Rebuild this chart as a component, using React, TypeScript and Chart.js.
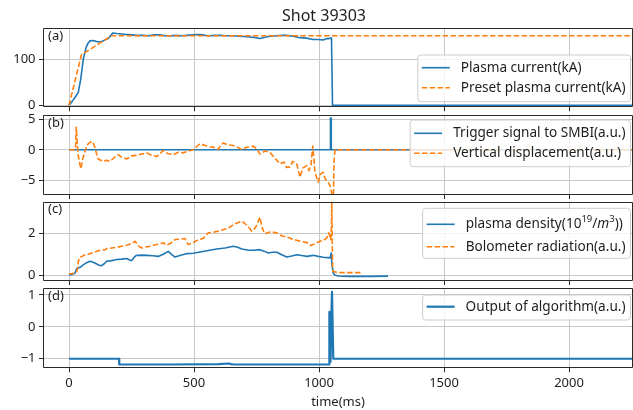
import React, { useEffect, useRef } from "react";
import { Chart, registerables } from "chart.js";

Chart.register(...registerables);

const W = 633;
const H = 410;
const FONT = "'Noto Sans', 'DejaVu Sans', sans-serif";
const TEXT = "#1e1e1e";
const BLUE = "#1f77b4";
const ORANGE = "#ff7f0e";
const GRID = "#c8c8c8";
const FRAME = "#2a2a2a";

const TITLE = "Shot 39303";
const X_LABEL = "time(ms)";
const X_MIN = -104;
const X_MAX = 2256;
const X_TICKS = [0, 500, 1000, 1500, 2000];

// ---- (a) plasma current ----
const A_TICKS = [0, 100];
const plasmaCurrent: [number, number][] = [
  [0, 0], [12, 8], [24, 17], [37, 28], [47, 57], [57, 100], [68, 125], [76, 135], [84, 140],
  [97, 141], [107, 139], [117, 138], [127, 138], [137, 140], [147, 143], [157, 145], [166, 151],
  [175, 157], [191, 156], [211, 155], [231, 154], [251, 153], [271, 152], [297, 152], [320, 151],
  [340, 153], [364, 153], [384, 151], [404, 151], [430, 152], [450, 151], [471, 152], [497, 153],
  [524, 154], [544, 152], [564, 151], [584, 152], [604, 152], [630, 151], [657, 151], [684, 150],
  [711, 149], [737, 148], [764, 145], [784, 148], [804, 150], [830, 151], [850, 152], [871, 152],
  [897, 150], [924, 147], [950, 146], [977, 143], [997, 143], [1017, 142], [1031, 145], [1040, 145],
  [1047, 146], [1050, 146], [1054, 0], [1070, 0], [2260, 0],
];
const presetCurrent: [number, number][] = [
  [0, 0], [50, 110], [170, 151], [2260, 151],
];

// ---- (b) trigger / vertical displacement ----
const B_TICKS = [-5, 0, 5];
const triggerSignal: [number, number][] = [
  [0, 0], [1045, 0], [1046, 5.2], [1048, 5.2], [1049, 0], [2260, 0],
];
const verticalDisplacement: [number, number][] = [
  [0, 0], [20, 0], [26, 0.2], [29, 3.7], [31, 2.5], [34, 0.5], [37, -0.9], [42, -2.0], [47, -3.1],
  [51, -2.4], [55, -1.5], [62, -0.5], [71, 0.7], [80, 1.1], [91, 1.4], [98, 1.0], [104, 0.4],
  [110, -0.6], [117, -1.5], [127, -1.7], [137, -1.9], [150, -1.7], [164, -1.9], [180, -1.3],
  [197, -0.8], [210, -1.2], [231, -1.5], [250, -1.0], [271, -0.9], [290, -0.7], [311, -0.5],
  [330, -0.9], [351, -1.1], [365, -0.6], [377, -0.1], [395, -0.6], [417, -0.8], [437, -0.4],
  [457, -0.5], [477, -0.2], [497, 0], [510, 0.5], [524, 1.0], [545, 0.7], [564, 0.5], [580, 0.4],
  [597, 0.05], [605, 0.6], [617, 1.1], [637, 0.8], [657, 0.7], [675, 0.4], [691, 0.05], [710, 0.4],
  [737, 0.6], [750, 0.2], [764, -0.7], [784, -0.2], [804, -0.4], [820, -1.2], [844, -2.3],
  [860, -2.0], [870, -2.9], [884, -2.8], [895, -1.9], [911, -2.3], [918, -3.5], [924, -4.5],
  [935, -3.0], [951, -2.6], [960, -3.4], [968, -2.5], [975, 0.6], [980, -1.5], [984, -3.7],
  [990, -4.5], [997, -5.3], [1005, -4.0], [1017, -3.7], [1025, -4.8], [1037, -5.3], [1045, -6.0],
  [1052, -7.3], [1058, -7.5], [1060, -2.0], [1064, 0], [2260, 0],
];

// ---- (c) density / bolometer ----
const C_TICKS = [0, 2];
const plasmaDensity: [number, number][] = [
  [0, 0], [12, 0.05], [24, 0.1], [30, 0.3], [37, 0.35], [47, 0.4], [57, 0.5], [70, 0.6], [84, 0.67],
  [97, 0.62], [111, 0.54], [121, 0.48], [131, 0.46], [141, 0.55], [151, 0.67], [171, 0.7],
  [191, 0.75], [211, 0.77], [231, 0.8], [245, 0.72], [251, 0.7], [260, 0.85], [268, 0.94],
  [290, 0.96], [311, 0.95], [335, 0.93], [357, 0.9], [377, 1.0], [397, 1.14], [410, 1.0],
  [424, 0.87], [447, 0.95], [471, 1.03], [497, 1.05], [524, 1.11], [557, 1.18], [591, 1.25],
  [624, 1.3], [657, 1.38], [675, 1.33], [691, 1.25], [715, 1.2], [737, 1.19], [764, 1.22],
  [780, 1.15], [797, 1.06], [814, 1.1], [831, 1.1], [851, 0.98], [871, 0.87], [891, 0.92],
  [911, 0.98], [931, 0.94], [951, 0.9], [977, 0.95], [997, 0.9], [1017, 0.86], [1044, 0.83],
  [1049, 1.06], [1052, 0.5], [1057, 0.1], [1065, 0.0], [1077, -0.03], [1120, -0.05], [1200, -0.05],
  [1276, -0.04],
];
const bolometerRadiation: [number, number][] = [
  [0, 0.06], [24, 0.1], [30, 0.15], [33, 0.27], [37, 0.6], [41, 0.83], [52, 0.9], [64, 0.98],
  [77, 1.0], [91, 1.06], [101, 1.1], [111, 1.14], [121, 1.18], [131, 1.22], [141, 1.2], [151, 1.27],
  [171, 1.3], [191, 1.33], [211, 1.38], [231, 1.43], [248, 1.5], [264, 1.62], [278, 1.4], [291, 1.3],
  [307, 1.35], [324, 1.38], [344, 1.45], [364, 1.49], [377, 1.55], [391, 1.43], [410, 1.55],
  [424, 1.7], [444, 1.72], [464, 1.75], [477, 1.46], [494, 1.55], [511, 1.65], [524, 1.72],
  [537, 1.75], [547, 1.9], [557, 2.02], [577, 2.05], [597, 2.1], [611, 2.15], [631, 2.22],
  [645, 2.3], [657, 2.41], [675, 2.5], [691, 2.57], [700, 2.5], [711, 2.38], [721, 2.25],
  [731, 2.1], [741, 2.2], [751, 2.38], [758, 2.6], [764, 2.76], [771, 2.33], [778, 2.1],
  [784, 1.97], [794, 2.02], [804, 2.06], [818, 2.04], [831, 2.02], [844, 1.92], [857, 1.86],
  [877, 1.8], [897, 1.7], [911, 1.67], [924, 1.62], [940, 1.58], [957, 1.54], [967, 1.42],
  [977, 1.46], [990, 1.55], [1004, 1.62], [1017, 1.65], [1031, 1.78], [1039, 2.02], [1043, 1.85],
  [1047, 1.7], [1050, 2.4], [1051, 3.6], [1053, 1.5], [1055, 0.19], [1071, 0.14], [1100, 0.13],
  [1140, 0.13], [1171, 0.13],
];

// ---- (d) algorithm output ----
const D_TICKS = [-1, 0, 1];
const algorithmOutput: [number, number][] = [
  [0, -1], [200, -1], [201, -1.18], [400, -1.18], [600, -1.17], [640, -1.15], [648, -1.17],
  [660, -1.18], [1040, -1.18], [1041, 0.47], [1042, -0.6], [1044, 0.3], [1046, -1.1], [1048, -0.3],
  [1050, 0.5], [1052, 1.1], [1055, 1.1], [1057, -1.0], [2260, -1.0],
];

type Series = { label: string; data: [number, number][]; color: string; dashed: boolean; width: number };
type Panel = {
  tag: string;
  top: number;
  bottom: number;
  yMin: number;
  yMax: number;
  yTicks: number[];
  series: Series[];
  legend: { top: number; height: number; rows: number[] };
};

const PANELS: Panel[] = [
  {
    tag: "(a)", top: 28, bottom: 107.3, yMin: -4.3, yMax: 168, yTicks: A_TICKS,
    series: [
      { label: "Plasma current(kA)", data: plasmaCurrent, color: BLUE, dashed: false, width: 1.6 },
      { label: "Preset plasma current(kA)", data: presetCurrent, color: ORANGE, dashed: true, width: 1.6 },
    ],
    legend: { top: 27, height: 46.7, rows: [12.7, 32.7] },
  },
  {
    tag: "(b)", top: 115, bottom: 195, yMin: -7.4, yMax: 5.7, yTicks: B_TICKS,
    series: [
      { label: "Trigger signal to SMBI(a.u.)", data: triggerSignal, color: BLUE, dashed: false, width: 1.6 },
      { label: "Vertical displacement(a.u.)", data: verticalDisplacement, color: ORANGE, dashed: true, width: 1.6 },
    ],
    legend: { top: 5, height: 46.7, rows: [13.3, 33.3] },
  },
  {
    tag: "(c)", top: 201.7, bottom: 281, yMin: -0.27, yMax: 3.5, yTicks: C_TICKS,
    series: [
      { label: "plasma density(10^{19}/*m*^{3}))", data: plasmaDensity, color: BLUE, dashed: false, width: 1.6 },
      { label: "Bolometer radiation(a.u.)", data: bolometerRadiation, color: ORANGE, dashed: true, width: 1.6 },
    ],
    legend: { top: 6.6, height: 50, rows: [16, 38.4] },
  },
  {
    tag: "(d)", top: 288.3, bottom: 368.3, yMin: -1.3, yMax: 1.21, yTicks: D_TICKS,
    series: [
      { label: "Output of algorithm(a.u.)", data: algorithmOutput, color: BLUE, dashed: false, width: 2.2 },
    ],
    legend: { top: 6.7, height: 25, rows: [11.7] },
  },
];

const DASH = [5.5, 2.4];
const FS = 13;
const LFS = 13.6;

type Seg = { t: string; sup: boolean; it: boolean };
function parseRich(s: string): Seg[] {
  const segs: Seg[] = [];
  let buf = "";
  let it = false;
  let i = 0;
  const flush = () => {
    if (buf) segs.push({ t: buf, sup: false, it });
    buf = "";
  };
  while (i < s.length) {
    const c = s[i];
    if (c === "^" && s[i + 1] === "{") {
      flush();
      const j = s.indexOf("}", i);
      segs.push({ t: s.slice(i + 2, j), sup: true, it });
      i = j + 1;
      continue;
    }
    if (c === "*") {
      flush();
      it = !it;
      i++;
      continue;
    }
    buf += c;
    i++;
  }
  flush();
  return segs;
}

function segFont(sg: Seg) {
  return `${sg.it ? "italic " : ""}${sg.sup ? LFS * 0.7 : LFS}px ${FONT}`;
}

function richWidth(ctx: CanvasRenderingContext2D, segs: Seg[]) {
  let w = 0;
  for (const sg of segs) {
    ctx.font = segFont(sg);
    w += ctx.measureText(sg.t).width;
  }
  return w;
}

function fmtY(v: number) {
  return v < 0 ? "\u2212" + Math.abs(v) : String(v);
}

function makeChart(canvas: HTMLCanvasElement, p: Panel, isBottom: boolean, isFirst: boolean) {
  const xAxisH = isBottom ? H - p.bottom : 4;
  const padBottom = isBottom ? 0 : H - p.bottom - xAxisH;
  const n = p.series.length;
  const datasets = p.series.map((s, k) => ({
    label: s.label,
    data: s.data.map(([x, y]) => ({ x, y })),
    borderColor: s.color,
    backgroundColor: s.color,
    borderWidth: s.width,
    borderDash: s.dashed ? DASH : [],
    pointRadius: 0,
    fill: false,
    tension: 0,
    borderCapStyle: "butt" as const,
    borderJoinStyle: "round" as const,
    order: n - k,
  }));

  const deco = {
    id: "deco" + p.tag,
    afterDatasetsDraw(chart: any) {
      const ctx: CanvasRenderingContext2D = chart.ctx;
      const a = chart.chartArea;
      ctx.save();
      // frame
      ctx.strokeStyle = FRAME;
      ctx.lineWidth = 1;
      const l = Math.round(a.left) + 0.5;
      const t = Math.round(a.top) + 0.5;
      const b = Math.round(a.bottom) - 0.5;
      const r = Math.round(a.right) - 0.5;
      ctx.beginPath();
      ctx.moveTo(l, b);
      ctx.lineTo(l, t);
      ctx.lineTo(r, t);
      ctx.lineTo(r, b);
      ctx.closePath();
      ctx.stroke();
      // tag
      ctx.fillStyle = TEXT;
      ctx.font = `${FS}px ${FONT}`;
      ctx.textAlign = "left";
      ctx.textBaseline = "middle";
      ctx.fillText(p.tag, a.left + 5, a.top + 8);
      // legend
      const rich = p.series.map((s) => parseRich(s.label));
      const tw = Math.max(...rich.map((r2) => richWidth(ctx, r2)));
      const boxW = 4 + 28 + 11 + tw + 5;
      const boxR = a.right - 2.5;
      const boxL = boxR - boxW;
      const boxT = a.top + p.legend.top;
      const boxH = p.legend.height;
      ctx.beginPath();
      const rr = 3;
      ctx.moveTo(boxL + rr, boxT);
      ctx.lineTo(boxL + boxW - rr, boxT);
      ctx.arcTo(boxL + boxW, boxT, boxL + boxW, boxT + rr, rr);
      ctx.lineTo(boxL + boxW, boxT + boxH - rr);
      ctx.arcTo(boxL + boxW, boxT + boxH, boxL + boxW - rr, boxT + boxH, rr);
      ctx.lineTo(boxL + rr, boxT + boxH);
      ctx.arcTo(boxL, boxT + boxH, boxL, boxT + boxH - rr, rr);
      ctx.lineTo(boxL, boxT + rr);
      ctx.arcTo(boxL, boxT, boxL + rr, boxT, rr);
      ctx.closePath();
      ctx.fillStyle = "rgba(255,255,255,0.8)";
      ctx.fill();
      ctx.strokeStyle = "#cccccc";
      ctx.lineWidth = 1;
      ctx.stroke();
      p.series.forEach((s, k) => {
        const y = boxT + p.legend.rows[k];
        ctx.strokeStyle = s.color;
        ctx.lineWidth = s.width;
        ctx.setLineDash(s.dashed ? DASH : []);
        ctx.beginPath();
        ctx.moveTo(boxL + 4, y);
        ctx.lineTo(boxL + 32, y);
        ctx.stroke();
        ctx.setLineDash([]);
        let x = boxL + 43;
        ctx.fillStyle = TEXT;
        ctx.textBaseline = "middle";
        for (const sg of rich[k]) {
          ctx.font = segFont(sg);
          ctx.fillText(sg.t, x, sg.sup ? y - 5 : y);
          x += ctx.measureText(sg.t).width;
        }
      });
      if (isFirst) {
        ctx.font = `16px ${FONT}`;
        ctx.textAlign = "center";
        ctx.textBaseline = "alphabetic";
        ctx.fillStyle = TEXT;
        ctx.fillText(TITLE, 324, 20.5);
      }
      ctx.restore();
    },
  };

  const tickFont = { size: FS, family: FONT };
  return new Chart(canvas, {
    type: "line",
    data: { datasets },
    options: {
      responsive: false,
      animation: false,
      devicePixelRatio: 1,
      events: [],
      layout: { padding: { top: p.top, bottom: padBottom, left: 0, right: 0 } },
      plugins: { legend: { display: false }, title: { display: false }, tooltip: { enabled: false } },
      scales: {
        x: {
          type: "linear",
          min: X_MIN,
          max: X_MAX,
          afterBuildTicks: (s: any) => {
            s.ticks = X_TICKS.map((v) => ({ value: v }));
          },
          afterFit: (s: any) => {
            s.height = xAxisH;
          },
          grid: { color: GRID, lineWidth: 1, drawTicks: true, tickLength: 4, tickColor: FRAME, tickWidth: 1 },
          border: { display: false },
          ticks: {
            display: isBottom,
            color: TEXT,
            font: tickFont,
            padding: 3,
            maxRotation: 0,
            autoSkip: false,
            callback: (v: any) => String(v),
          },
          title: {
            display: isBottom,
            text: X_LABEL,
            color: TEXT,
            font: tickFont,
            padding: { top: 0, bottom: 0 },
          },
        },
        y: {
          type: "linear",
          min: p.yMin,
          max: p.yMax,
          afterBuildTicks: (s: any) => {
            s.ticks = p.yTicks.map((v) => ({ value: v }));
          },
          afterFit: (s: any) => {
            s.width = 43;
          },
          grid: { color: GRID, lineWidth: 1, drawTicks: true, tickLength: 4, tickColor: FRAME, tickWidth: 1 },
          border: { display: false },
          ticks: { color: TEXT, font: tickFont, padding: 3.5, callback: (v: any) => fmtY(Number(v)) },
        },
      },
    } as any,
    plugins: [deco],
  });
}

export default function App() {
  const refs = useRef<(HTMLCanvasElement | null)[]>([]);
  useEffect(() => {
    const charts = PANELS.map((p, i) =>
      makeChart(refs.current[i] as HTMLCanvasElement, p, i === PANELS.length - 1, i === 0)
    );
    return () => charts.forEach((c) => c.destroy());
  }, []);
  return (
    <div style={{ position: "fixed", left: 0, top: 0, width: W, height: H, background: "#ffffff" }}>
      {PANELS.map((p, i) => (
        <canvas
          key={p.tag}
          ref={(el) => {
            refs.current[i] = el;
          }}
          width={W}
          height={H}
          style={{ position: "absolute", left: 0, top: 0, width: W, height: H }}
        />
      ))}
    </div>
  );
}
